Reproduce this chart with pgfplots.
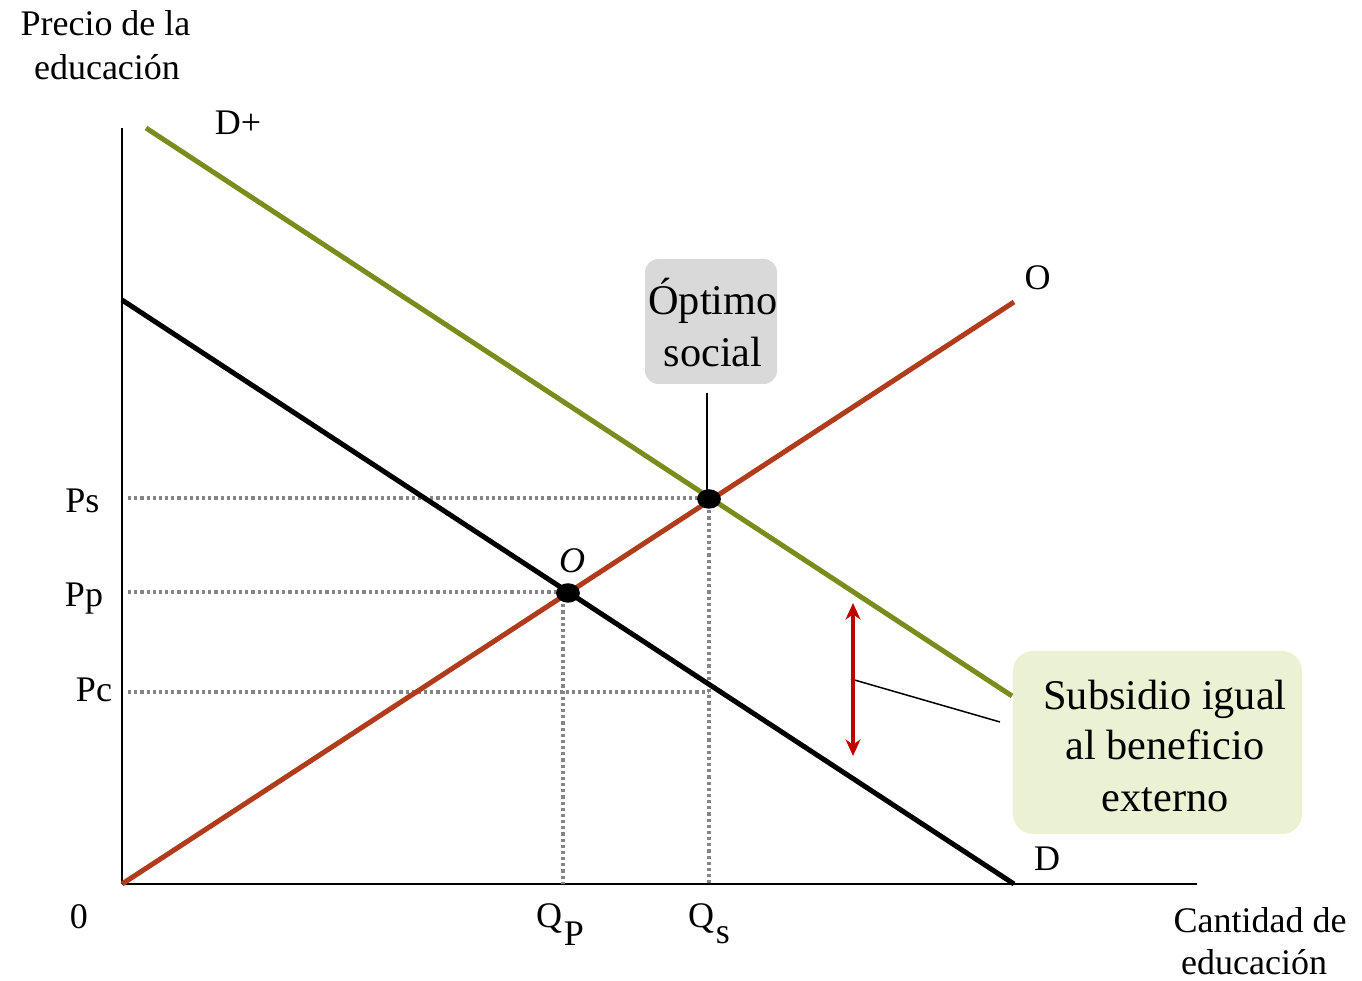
\documentclass[border=0pt]{standalone}
\usepackage{fontspec}
\setmainfont{Liberation Serif}
\usepackage{pgfplots}
\pgfplotsset{compat=1.18}
\usetikzlibrary{arrows.meta}

\definecolor{olivaD}{HTML}{7A8C1C}
\definecolor{ofertaO}{HTML}{B03C1C}
\definecolor{flecha}{HTML}{C00000}
\definecolor{cajagris}{HTML}{D9D9D9}
\definecolor{cajaverde}{HTML}{EBF1D3}
\definecolor{punteado}{HTML}{858585}

\tikzset{
    lbl/.style={font=\fontsize{10.8}{13}\selectfont, anchor=base, inner sep=0pt},
    cal/.style={font=\fontsize{12.7}{15}\selectfont, anchor=base, inner sep=0pt},
    guia/.style={punteado, line width=1pt, dash pattern=on 0.95pt off 0.9pt},
}

\begin{document}
\begin{tikzpicture}
\begin{axis}[
    x=0.3pt, y=0.3pt,
    xmin=0, xmax=1075, ymin=0, ymax=756,
    axis lines=left,
    axis line style={-, line width=0.55pt},
    xtick=\empty, ytick=\empty,
    clip=false,
]
% marco de la figura completa
\path (axis cs:-122,-96) rectangle (axis cs:1240,884);

% cajas de anotacion
\fill[cajagris, rounded corners=4pt] (axis cs:523,625) rectangle (axis cs:655,500);
\fill[cajaverde, rounded corners=6pt] (axis cs:891,233) rectangle (axis cs:1180,50);

% lineas punteadas de referencia
\addplot[guia] coordinates {(6,386) (587,386)};
\addplot[guia] coordinates {(6,292) (445,292)};
\addplot[guia] coordinates {(6,192) (587,192)};
\addplot[guia] coordinates {(441,292) (441,0)};
\addplot[guia] coordinates {(587,386) (587,0)};

% curvas
\addplot[olivaD, line width=1.5pt] coordinates {(24,756) (890,188)};
\addplot[black, line width=1.5pt] coordinates {(0,584) (892,0)};
\addplot[ofertaO, line width=1.5pt] coordinates {(0,0) (892,582)};

% equilibrios
\addplot[only marks, mark=*, mark size=3.2pt, black, mark options={xscale=1.05, yscale=0.85}] coordinates {(446,291) (587,385)};

% conectores
\addplot[black, line width=0.45pt] coordinates {(585,491) (585,394)};
\addplot[black, line width=0.45pt] coordinates {(729,205) (878,162)};

% subsidio
\addplot[flecha, line width=1.2pt, {Stealth[length=5pt,width=4.5pt]}-{Stealth[length=5pt,width=4.5pt]}] coordinates {(731,281) (731,128)};

% textos
\node[lbl] at (axis cs:-16.5,848) {Precio de la};
\node[lbl] at (axis cs:-15,804) {educación};
\node[lbl] at (axis cs:1138,-48) {Cantidad de};
\node[lbl] at (axis cs:1132,-90) {educación};
\node[lbl] at (axis cs:116,749) {D+};
\node[lbl] at (axis cs:915.5,594) {O};
\node[lbl] at (axis cs:925,14) {D};
\node[lbl] at (axis cs:450,311) {\itshape O};
\node[lbl] at (axis cs:-39.5,371) {Ps};
\node[lbl] at (axis cs:-38,277) {Pp};
\node[lbl] at (axis cs:-28,182) {Pc};
\node[lbl] at (axis cs:-43,-44) {0};
\node[lbl] at (axis cs:438,-43) {Q\kern0.5pt\raisebox{-5.4pt}{P}};
\node[lbl] at (axis cs:587,-43) {Q\kern0.5pt\raisebox{-4.8pt}{s}};

\node[cal] at (axis cs:591,569) {Óptimo};
\node[cal] at (axis cs:591,517) {social};
\node[cal] at (axis cs:1043,174) {Subsidio igual};
\node[cal] at (axis cs:1043,124) {al beneficio};
\node[cal] at (axis cs:1043,72) {externo};
\end{axis}
\end{tikzpicture}
\end{document}
